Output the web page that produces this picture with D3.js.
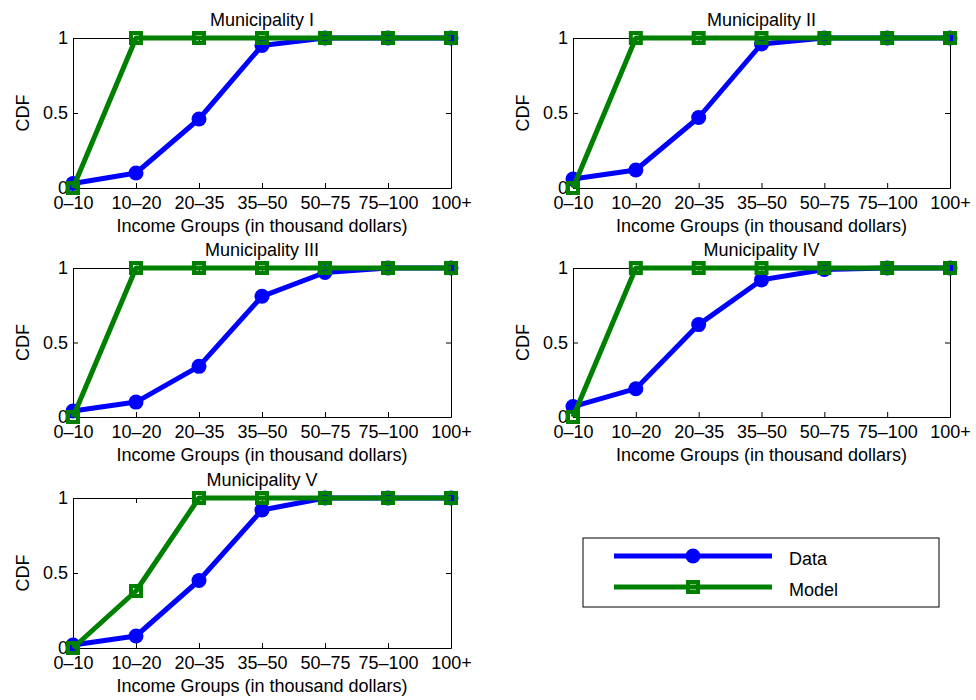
<!DOCTYPE html>
<html><head><meta charset="utf-8">
<script src="https://cdn.jsdelivr.net/npm/d3@7"></script>
<style>body{margin:0;background:#fff;} text{font-family:"Liberation Sans",Arial,Helvetica,sans-serif;}</style>
</head><body>
<svg id="chart" width="976" height="700"></svg>
<script>
const categories = ["0\u201310","10\u201320","20\u201335","35\u201350","50\u201375","75\u2013100","100+"];
const yTicks = [0, 0.5, 1];
const yTickLabels = ["0", "0.5", "1"];
const titles = ["Municipality I","Municipality II","Municipality III","Municipality IV","Municipality V"];
const data1 = [0.03, 0.10, 0.46, 0.95, 1.00, 1.00, 1.00];
const model1 = [0, 1, 1, 1, 1, 1, 1];
const data2 = [0.06, 0.12, 0.47, 0.96, 1.00, 1.00, 1.00];
const model2 = [0, 1, 1, 1, 1, 1, 1];
const data3 = [0.04, 0.10, 0.34, 0.81, 0.97, 1.00, 1.00];
const model3 = [0, 1, 1, 1, 1, 1, 1];
const data4 = [0.07, 0.19, 0.62, 0.92, 0.99, 1.00, 1.00];
const model4 = [0, 1, 1, 1, 1, 1, 1];
const data5 = [0.02, 0.08, 0.45, 0.92, 1.00, 1.00, 1.00];
const model5 = [0, 0.38, 1, 1, 1, 1, 1];
const seriesNames = ["Data", "Model"];
const xLabel = "Income Groups (in thousand dollars)";
const yLabel = "CDF";

const panelData = [[data1, model1],[data2, model2],[data3, model3],[data4, model4],[data5, model5]];
const cols = [[73, 451],[573, 950]];
const rows = [[38, 188],[268, 417],[498, 648]];
const BLUE = "#0000ff", GREEN = "#008000";
const FS = 18;

const svg = d3.select("#chart");

panelData.forEach((pd, i) => {
  const [x0, x1] = cols[i % 2];
  const [y0, y1] = rows[Math.floor(i / 2)];
  const x = d3.scalePoint().domain(categories).range([x0, x1]).padding(0);
  const y = d3.scaleLinear().domain([0, 1]).range([y1, y0]);
  const g = svg.append("g");

  const ab = g.append("g").attr("transform", `translate(0,${y1})`)
    .call(d3.axisBottom(x).tickSizeInner(-5).tickSizeOuter(0).tickPadding(8));
  const at = g.append("g").attr("transform", `translate(0,${y0})`)
    .call(d3.axisTop(x).tickSizeInner(-5).tickSizeOuter(0).tickFormat(""));
  const al = g.append("g").attr("transform", `translate(${x0},0)`)
    .call(d3.axisLeft(y).tickValues(yTicks).tickFormat((d, k) => yTickLabels[k]).tickSizeInner(-5).tickSizeOuter(0).tickPadding(5));
  const ar = g.append("g").attr("transform", `translate(${x1},0)`)
    .call(d3.axisRight(y).tickValues(yTicks).tickSizeInner(-5).tickSizeOuter(0).tickFormat(""));
  [ab, at, al, ar].forEach(a => {
    a.selectAll("path.domain").attr("stroke", "#000").attr("stroke-width", 1);
    a.selectAll("line").attr("stroke", "#000").attr("stroke-width", 1);
    a.selectAll("text").attr("fill", "#000").style("font-size", FS + "px")
      .style("font-family", '"Liberation Sans",Arial,sans-serif');
  });

  const line = d3.line().x((d, k) => x(categories[k])).y(d => y(d));
  const [dv, mv] = pd;
  g.append("path").datum(dv).attr("d", line).attr("fill", "none")
    .attr("stroke", BLUE).attr("stroke-width", 5).attr("stroke-linejoin", "round");
  g.selectAll("circle.dm").data(dv).enter().append("circle")
    .attr("cx", (d, k) => x(categories[k])).attr("cy", d => y(d)).attr("r", 7.5).attr("fill", BLUE);
  g.append("path").datum(mv).attr("d", line).attr("fill", "none")
    .attr("stroke", GREEN).attr("stroke-width", 5).attr("stroke-linejoin", "round");
  g.selectAll("rect.mm").data(mv).enter().append("rect")
    .attr("x", (d, k) => x(categories[k]) - 5).attr("y", d => y(d) - 5)
    .attr("width", 10).attr("height", 10).attr("fill", "none")
    .attr("stroke", GREEN).attr("stroke-width", 4);

  g.append("text").attr("x", (x0 + x1) / 2).attr("y", y0 - 12).attr("text-anchor", "middle")
    .style("font-size", FS + "px").text(titles[i]);
  g.append("text").attr("x", (x0 + x1) / 2).attr("y", y1 + 44).attr("text-anchor", "middle")
    .style("font-size", FS + "px").text(xLabel);
  g.append("text").attr("transform", `translate(${x0 - 44},${(y0 + y1) / 2}) rotate(-90)`)
    .attr("text-anchor", "middle").style("font-size", FS + "px").text(yLabel);
});

const lg = svg.append("g");
lg.append("rect").attr("x", 583).attr("y", 538).attr("width", 356).attr("height", 69)
  .attr("fill", "#fff").attr("stroke", "#000").attr("stroke-width", 1);
const legY = [556, 587];
seriesNames.forEach((name, k) => {
  const col = k === 0 ? BLUE : GREEN;
  lg.append("line").attr("x1", 614).attr("x2", 772).attr("y1", legY[k]).attr("y2", legY[k])
    .attr("stroke", col).attr("stroke-width", 5);
  if (k === 0) {
    lg.append("circle").attr("cx", 693).attr("cy", legY[k]).attr("r", 7.5).attr("fill", col);
  } else {
    lg.append("rect").attr("x", 688).attr("y", legY[k] - 5).attr("width", 10).attr("height", 10)
      .attr("fill", "none").attr("stroke", col).attr("stroke-width", 4);
  }
  lg.append("text").attr("x", 789).attr("y", legY[k] + 9).style("font-size", FS + "px").text(name);
});
</script>
</body></html>
